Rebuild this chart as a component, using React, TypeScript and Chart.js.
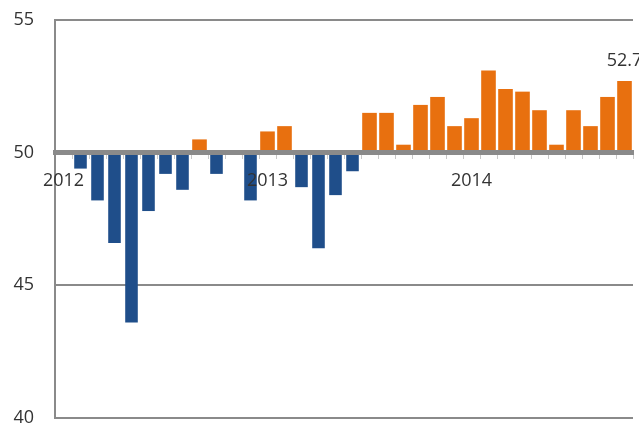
import React, { useEffect, useRef } from "react";
import { Chart, registerables, Plugin } from "chart.js";

Chart.register(...registerables);

// Monthly index readings, Jan 2012 – Oct 2014 (50 = no change)
const years = ["2012", "2013", "2014"];
const monthsPerYear = [12, 12, 10];
const values = [
  50.0, 49.4, 48.2, 46.6, 43.6, 47.8, 49.2, 48.6, 50.5, 49.2, 50.1, 48.2,
  50.8, 51.0, 48.7, 46.4, 48.4, 49.3, 51.5, 51.5, 50.3, 51.8, 52.1, 51.0,
  51.3, 53.1, 52.4, 52.3, 51.6, 50.3, 51.6, 51.0, 52.1, 52.7,
];
const yTicks = [40, 45, 50, 55];
const baseline = 50;

const BLUE = "#1f4e8a";
const ORANGE = "#e8700f";
const GRID = "#8a8a8a";
const TEXT = "#333333";
const FONT = "'Open Sans', 'Liberation Sans', sans-serif";

// One category per month, labelled "2012-01" etc.
const labels: string[] = [];
years.forEach((y, yi) => {
  for (let m = 1; m <= monthsPerYear[yi]; m++) {
    labels.push(`${y}-${String(m).padStart(2, "0")}`);
  }
});

const below = values.map((v) => (v < baseline ? v : null));
const above = values.map((v) => (v >= baseline ? v : null));

// Writes the latest reading above its bar
const lastValueLabel: Plugin<"bar"> = {
  id: "lastValueLabel",
  afterDatasetsDraw(chart) {
    const meta = chart.getDatasetMeta(1);
    const idx = values.length - 1;
    const el = meta.data[idx] as any;
    if (!el) return;
    const ctx = chart.ctx;
    ctx.save();
    ctx.font = `18px ${FONT}`;
    ctx.fillStyle = TEXT;
    ctx.textAlign = "center";
    ctx.textBaseline = "bottom";
    ctx.fillText(values[idx].toFixed(1), el.x, el.y - 11);
    ctx.restore();
  },
};

export default function App() {
  const canvasRef = useRef<HTMLCanvasElement | null>(null);

  useEffect(() => {
    if (!canvasRef.current) return;
    const chart = new Chart(canvasRef.current, {
      type: "bar",
      data: {
        labels,
        datasets: [
          {
            data: below,
            backgroundColor: BLUE,
            base: baseline,
            barPercentage: 0.74,
            categoryPercentage: 1,
            grouped: false,
          } as any,
          {
            data: above,
            backgroundColor: ORANGE,
            base: baseline,
            barPercentage: 0.86,
            categoryPercentage: 1,
            grouped: false,
          } as any,
        ],
      },
      options: {
        animation: false,
        responsive: true,
        maintainAspectRatio: false,
        layout: { padding: { top: 20, bottom: 10, left: 0, right: 6 } },
        plugins: {
          legend: { display: false },
          tooltip: { enabled: false },
        },
        scales: {
          x: {
            type: "category",
            position: { y: baseline } as any,
            offset: true,
            afterFit: (scale: any) => {
              // the axis sits inside the plot, so it takes no layout room
              scale.height = 0;
              scale.paddingTop = 0;
              scale.paddingBottom = 0;
            },
            grid: {
              drawOnChartArea: false,
              drawTicks: true,
              tickLength: 4,
              color: "#c8c8c8",
              lineWidth: 1,
              offset: true,
            },
            border: { color: GRID, width: 5, z: 1 } as any,
            ticks: {
              autoSkip: false,
              maxRotation: 0,
              padding: 13,
              color: TEXT,
              font: { family: FONT, size: 18 },
              z: 1,
              callback: (_v: any, i: number) =>
                labels[i].endsWith("-01") ? labels[i].slice(0, 4) : "",
            },
          },
          y: {
            min: yTicks[0],
            max: yTicks[yTicks.length - 1],
            afterBuildTicks: (scale: any) => {
              scale.ticks = yTicks.map((v) => ({ value: v }));
            },
            afterFit: (scale: any) => {
              scale.width = 55;
              scale.paddingTop = 0;
              scale.paddingBottom = 0;
            },
            grid: { color: GRID, lineWidth: 2, drawTicks: false },
            border: { color: GRID, width: 2 },
            ticks: {
              padding: 21,
              color: TEXT,
              font: { family: FONT, size: 18 },
            },
          },
        },
      },
      plugins: [lastValueLabel],
    });
    return () => chart.destroy();
  }, []);

  return (
    <div
      style={{
        position: "fixed",
        left: 0,
        top: 0,
        width: 639,
        height: 428,
        background: "#ffffff",
      }}
    >
      <canvas ref={canvasRef} />
    </div>
  );
}
